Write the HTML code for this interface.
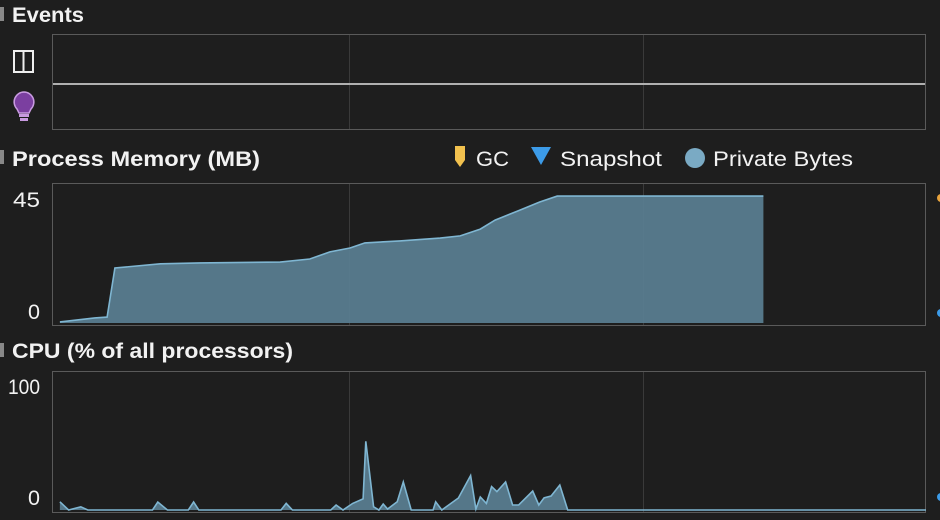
<!DOCTYPE html>
<html><head><meta charset="utf-8"><style>
html,body{margin:0;padding:0;background:#1e1e1e;width:940px;height:520px;overflow:hidden}
svg{display:block}
text{font-family:"Liberation Sans",sans-serif;fill:#f2f2f2}
</style></head><body>
<svg id="chart" width="940" height="520" viewBox="0 0 940 520">
<rect x="0" y="0" width="940" height="520" fill="#1e1e1e"/>
<rect x="0" y="7" width="4" height="14" fill="#888"/>
<text x="12" y="22" font-size="21" font-weight="bold" textLength="72" lengthAdjust="spacingAndGlyphs">Events</text>
<g>
<rect x="52.5" y="34.5" width="873" height="95" fill="#1e1e1e" stroke="#5a5a5a"/>
<line x1="349.5" y1="35" x2="349.5" y2="129" stroke="#3a3a3a"/>
<line x1="643.5" y1="35" x2="643.5" y2="129" stroke="#3a3a3a"/>
<line x1="53" y1="84" x2="925" y2="84" stroke="#b0b0b0" stroke-width="2"/>
</g>
<g>
<rect x="14" y="51" width="19" height="21" fill="none" stroke="#eee" stroke-width="2"/>
<line x1="23.5" y1="51" x2="23.5" y2="72" stroke="#eee" stroke-width="2"/>
</g>
<g>
<path d="M24 92 a10 10 0 0 1 7 17 l-2 4 h-10 l-2 -4 a10 10 0 0 1 7 -17z" fill="#7b3fa0" stroke="#c89ae0" stroke-width="1.5"/>
<rect x="19" y="114" width="10" height="3" fill="#c89ae0"/>
<rect x="20" y="118" width="8" height="3" fill="#c89ae0"/>
</g>
<rect x="0" y="150" width="4" height="14" fill="#888"/>
<text x="12" y="166" font-size="21" font-weight="bold" textLength="248" lengthAdjust="spacingAndGlyphs">Process Memory (MB)</text>
<g>
<path d="M455 146 h10 v14 l-5 7 l-5 -7z" fill="#f2c14e"/>
<text x="476" y="166" font-size="21" textLength="33" lengthAdjust="spacingAndGlyphs">GC</text>
<path d="M531 147 h20 l-10 18z" fill="#3c9be8"/>
<text x="560" y="166" font-size="21" textLength="102" lengthAdjust="spacingAndGlyphs">Snapshot</text>
<circle cx="695" cy="158" r="10" fill="#7aaac4"/>
<text x="713" y="166" font-size="21" textLength="140" lengthAdjust="spacingAndGlyphs">Private Bytes</text>
</g>
<g id="mem"></g>
<rect x="0" y="343" width="4" height="14" fill="#888"/>
<text x="12" y="358" font-size="21" font-weight="bold" textLength="281" lengthAdjust="spacingAndGlyphs">CPU (% of all processors)</text>
<g id="cpu"></g>
<circle cx="941" cy="198" r="4" fill="#e8a33c"/>
<circle cx="941" cy="313" r="4" fill="#3c9be8"/>
<circle cx="941" cy="497" r="4" fill="#3c9be8"/>
</svg>
<script>
const memTimes=[0.9,4.9,6.3,7.2,12.4,16.9,26.1,29.5,31.8,34.1,35.8,39.8,44.4,46.7,49.0,50.7,53.5,55.8,57.8,81.4];
const memValues=[0.4,1.8,2.1,19.5,21,21.3,21.6,22.7,25.2,26.6,28.4,29.1,30.1,30.9,33.3,36.5,40,42.9,45,45];
const memTicks=[0,45];
const cpuTimes=[0.9,1.9,3.3,4.1,11.5,12.1,13.2,15.6,16.2,16.8,26.2,26.8,27.5,31.9,32.5,33.3,34.4,35.6,35.9,36.8,37.4,37.9,38.4,39.5,40.2,41.1,43.6,43.9,44.6,46.5,47.9,48.5,49.0,49.7,50.3,50.9,51.9,52.7,53.4,55.0,55.7,56.3,57.1,58.1,59.0,100];
const cpuValues=[6.6,0,2.6,0,0,6.4,0,0,6.4,0,0,5.3,0,0,4,0,5.3,9,55,2.6,0,4.8,0.8,6.6,22.4,0,0,6.6,0,9.6,27.5,0.8,10.4,5.3,18.7,14.7,22.4,4,4,15.2,4,9.8,11.2,20,0,0];
const cpuTicks=[0,100];
const gridTimes=[34,67.6];

const NS='http://www.w3.org/2000/svg';
function mk(tag,attrs,parent){const e=document.createElementNS(NS,tag);for(const k in attrs)e.setAttribute(k,attrs[k]);parent.appendChild(e);return e;}
const x=t=>52+t*8.74;

function panel(g,prefix,top,bottom,y,times,vals,ticks,tickYs,tickWs){
  const box=mk('rect',{x:52.5,y:top+0.5,width:873,height:bottom-top,fill:'#1e1e1e',stroke:'#5a5a5a'},g);
  
  
  gridTimes.forEach((gt,i)=>{
    const l=mk('line',{x1:Math.round(x(gt))+0.5,x2:Math.round(x(gt))+0.5,y1:top+1,y2:bottom,stroke:'#3a3a3a'},g);
    
    
  });
  let d='M'+x(times[0])+' '+y(0);
  times.forEach((t,i)=>{d+=' L'+x(t).toFixed(1)+' '+y(vals[i]).toFixed(1);});
  d+=' L'+x(times[times.length-1]).toFixed(1)+' '+y(0)+' Z';
  const area=mk('path',{d:d,fill:'#587c8f',opacity:'0.95'},g);
  
  
  let ld='';
  times.forEach((t,i)=>{ld+=(i?' L':'M')+x(t).toFixed(1)+' '+y(vals[i]).toFixed(1);});
  const line=mk('path',{d:ld,fill:'none',stroke:'#7fb6d2','stroke-width':1.6},g);
  
  
  ticks.forEach((tv,i)=>{
    const tx=mk('text',{x:40,y:tickYs[i],'font-size':21,'text-anchor':'end',textLength:tickWs[i],lengthAdjust:'spacingAndGlyphs'},g);
    tx.textContent=tv;
    
    
  });
}
const memY=v=>323-v*2.82;
panel(document.getElementById('mem'),'memory',183,325,memY,memTimes,memValues,memTicks,[memY(memTicks[0])-4,memY(memTicks[1])+11],[12,27]);
const cpuY=v=>510-v*1.25;
panel(document.getElementById('cpu'),'cpu',371,512,cpuY,cpuTimes,cpuValues,cpuTicks,[cpuY(cpuTicks[0])-5,cpuY(cpuTicks[1])+9],[12,32]);
</script>
</body></html>
